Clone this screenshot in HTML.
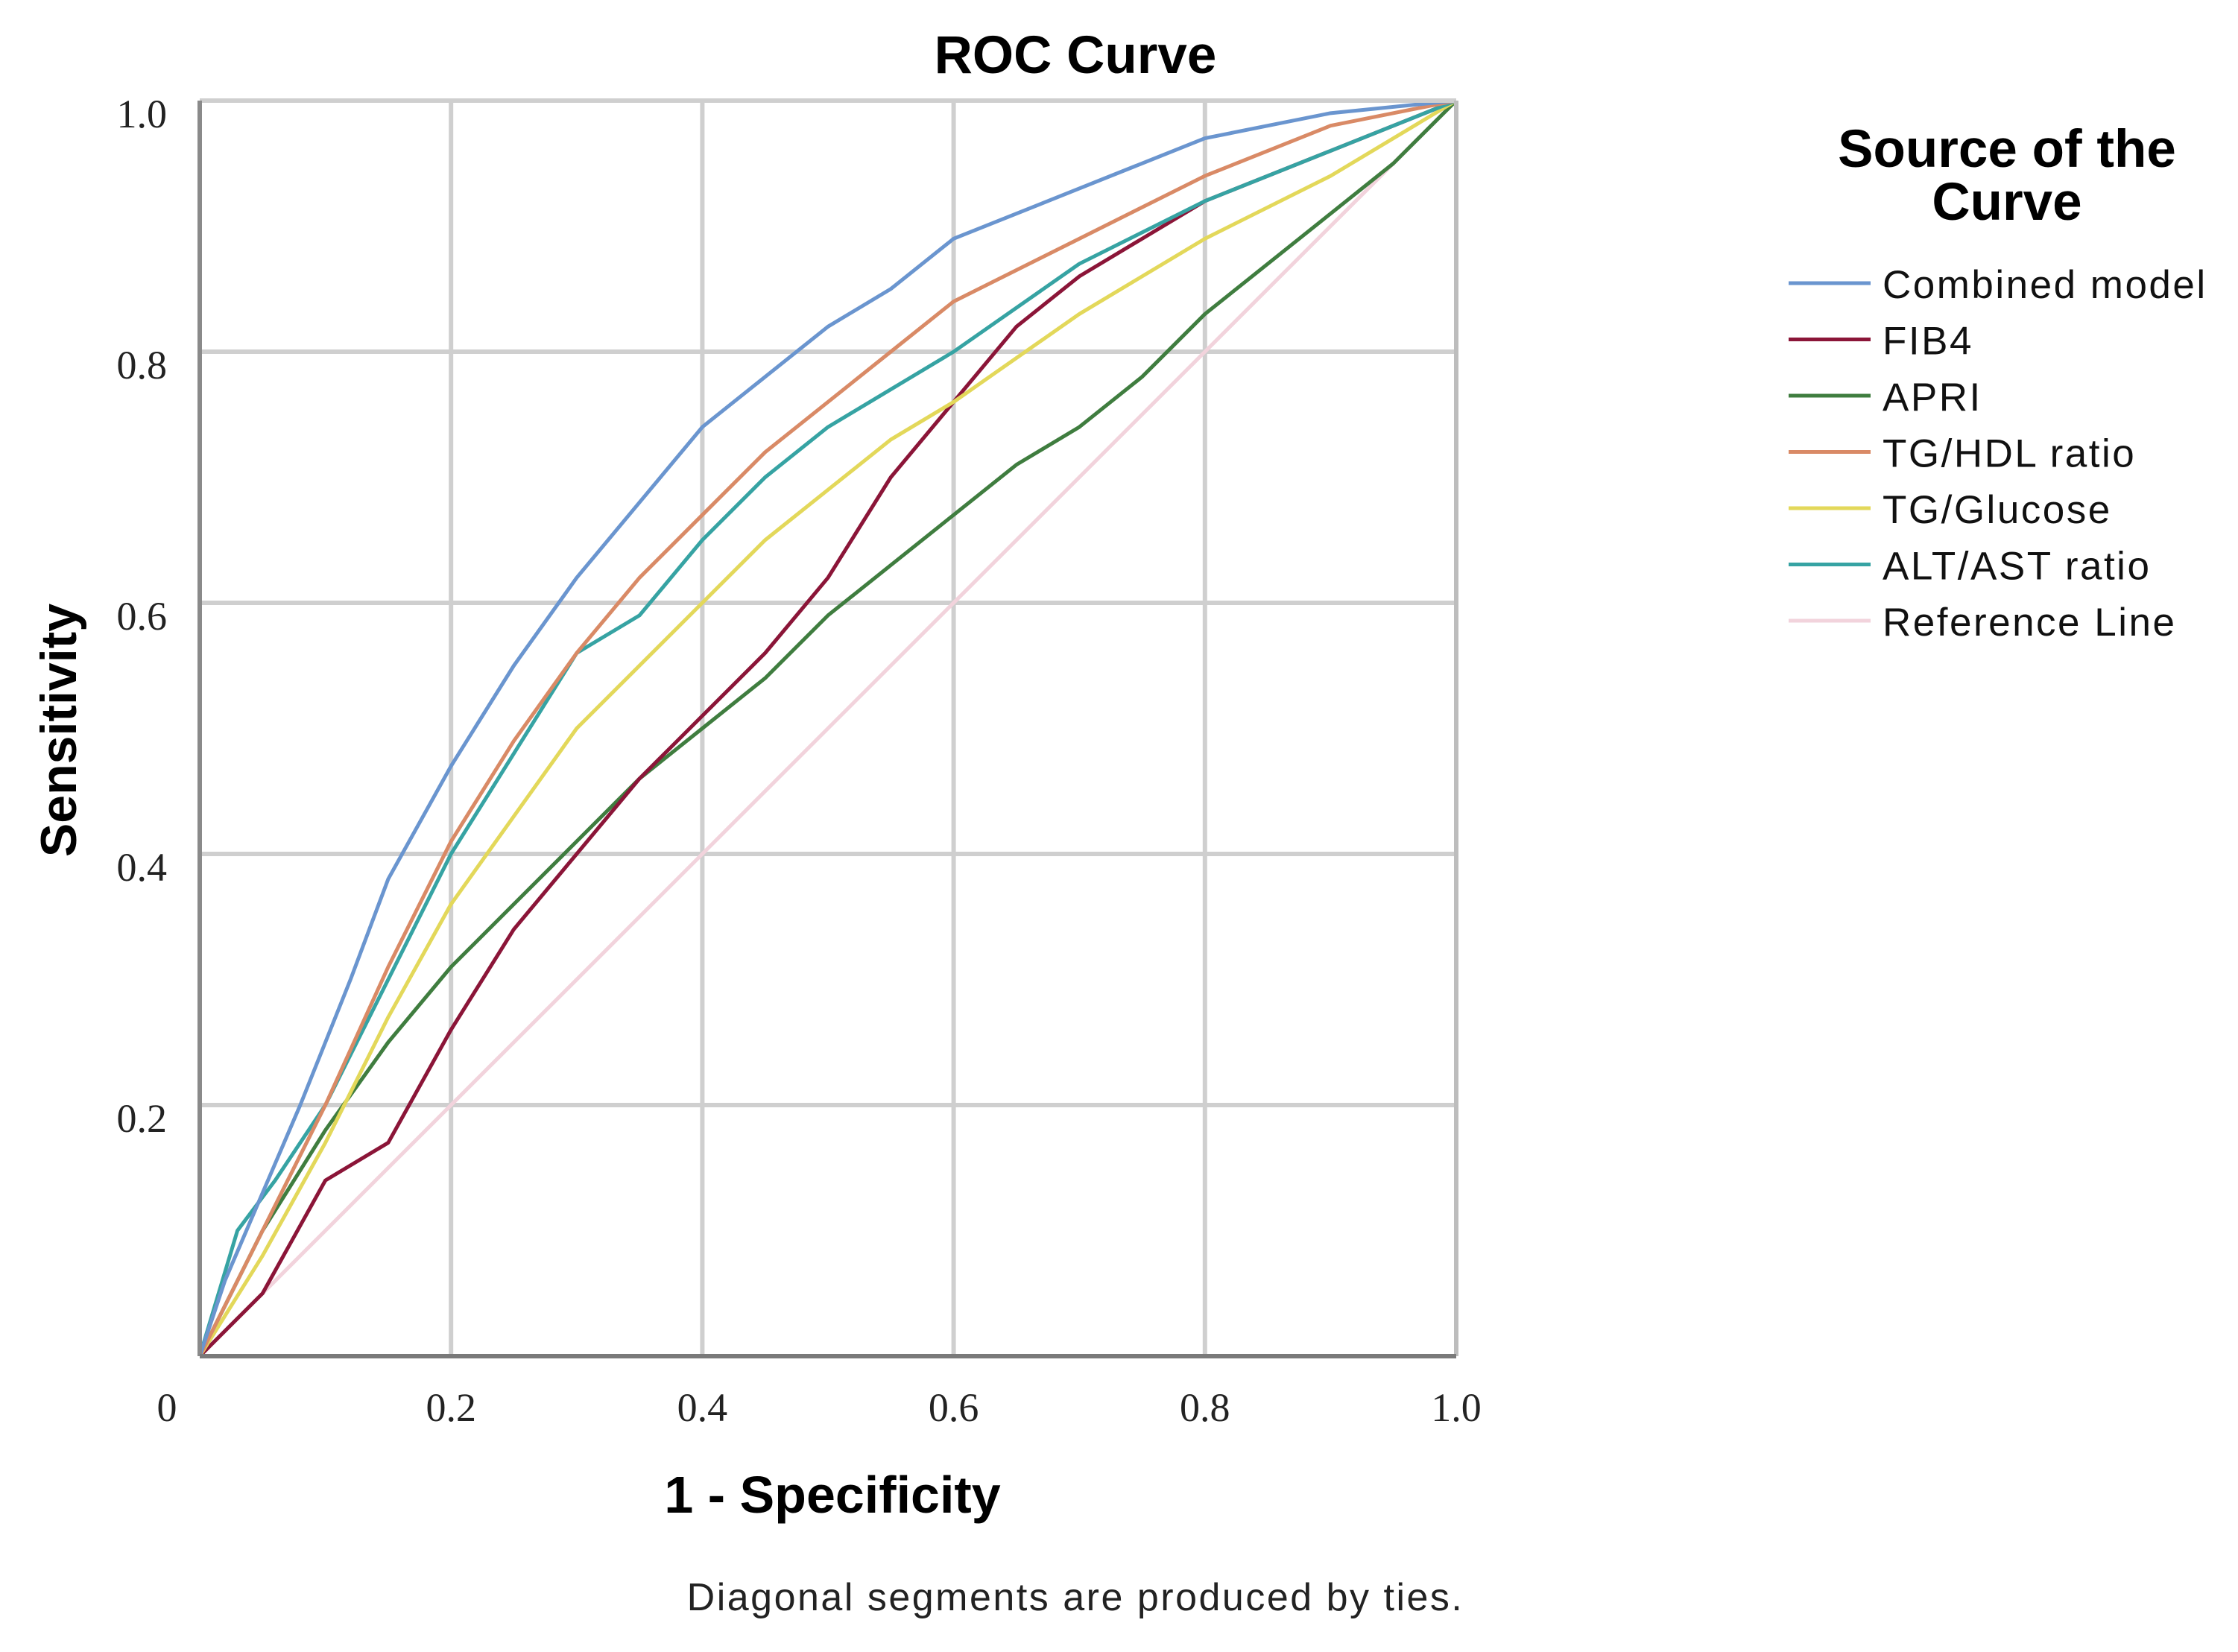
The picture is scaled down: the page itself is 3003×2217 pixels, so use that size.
<!DOCTYPE html>
<html><head><meta charset="utf-8"><style>
html,body{margin:0;padding:0;background:#fff;}
svg{display:block;}
text{font-family:"Liberation Sans",sans-serif;}
.tick{font-family:"Liberation Serif",serif;font-size:54px;fill:#222;}
</style></head><body>
<svg id="chart" width="3003" height="2217" viewBox="0 0 3003 2217">
<text x="1443" y="98" text-anchor="middle" font-size="71" font-weight="bold">ROC Curve</text>
<g id="grid"></g>
<g id="curves"></g>
<g id="axes"></g>
<text transform="translate(102,980) rotate(-90)" text-anchor="middle" font-size="68" font-weight="bold">Sensitivity</text>
<text x="1117" y="2030" text-anchor="middle" font-size="70" font-weight="bold">1 - Specificity</text>
<text x="1443" y="2161" text-anchor="middle" font-size="52" letter-spacing="2.5" fill="#222">Diagonal segments are produced by ties.</text>
<text x="2693" y="224" text-anchor="middle" font-size="71" font-weight="bold">Source of the</text>
<text x="2693" y="295" text-anchor="middle" font-size="71" font-weight="bold">Curve</text>
<g id="legend"></g>
</svg>
<script>
const seriesNames = ["Combined model","FIB4","APRI","TG/HDL ratio","TG/Glucose","ALT/AST ratio","Reference Line"];
const seriesColors = ["#6a95cf","#8b1538","#3f7d3f","#d98a66","#e3d85a","#36a3a3","#f2d3dc"];
const xTicks = [0,0.2,0.4,0.6,0.8,1.0];
const xTickLabels = ["0","0.2","0.4","0.6","0.8","1.0"];
const yTicks = [0.2,0.4,0.6,0.8,1.0];
const yTickLabels = ["0.2","0.4","0.6","0.8","1.0"];
const combinedFpr = [0,0.02,0.05,0.08,0.1,0.12,0.15,0.2,0.25,0.3,0.35,0.4,0.45,0.5,0.55,0.6,0.7,0.8,0.9,1];
const combinedTpr = [0,0.06,0.13,0.2,0.25,0.3,0.38,0.47,0.55,0.62,0.68,0.74,0.78,0.82,0.85,0.89,0.93,0.97,0.99,1];
const fib4Fpr = [0,0.05,0.1,0.15,0.2,0.25,0.3,0.35,0.4,0.45,0.5,0.55,0.6,0.65,0.7,0.75,0.8,0.9,1];
const fib4Tpr = [0,0.05,0.14,0.17,0.26,0.34,0.4,0.46,0.51,0.56,0.62,0.7,0.76,0.82,0.86,0.89,0.92,0.96,1];
const apriFpr = [0,0.05,0.1,0.15,0.2,0.25,0.3,0.35,0.4,0.45,0.5,0.55,0.6,0.65,0.7,0.75,0.8,0.85,0.9,0.95,1];
const apriTpr = [0,0.1,0.18,0.25,0.31,0.36,0.41,0.46,0.5,0.54,0.59,0.63,0.67,0.71,0.74,0.78,0.83,0.87,0.91,0.95,1];
const tghdlFpr = [0,0.05,0.1,0.15,0.2,0.25,0.3,0.35,0.4,0.45,0.5,0.55,0.6,0.7,0.8,0.9,1];
const tghdlTpr = [0,0.1,0.2,0.31,0.41,0.49,0.56,0.62,0.67,0.72,0.76,0.8,0.84,0.89,0.94,0.98,1];
const tgglucFpr = [0,0.05,0.1,0.15,0.2,0.25,0.3,0.35,0.4,0.45,0.5,0.55,0.6,0.7,0.8,0.9,1];
const tgglucTpr = [0,0.08,0.17,0.27,0.36,0.43,0.5,0.55,0.6,0.65,0.69,0.73,0.76,0.83,0.89,0.94,1];
const altastFpr = [0,0.03,0.06,0.1,0.15,0.2,0.25,0.3,0.35,0.4,0.45,0.5,0.55,0.6,0.7,0.8,0.9,1];
const altastTpr = [0,0.1,0.14,0.2,0.3,0.4,0.48,0.56,0.59,0.65,0.7,0.74,0.77,0.8,0.87,0.92,0.96,1];
const refFpr = [0,1];
const refTpr = [0,1];

const X0=268,X1=1954,Y0=1820,Y1=135;
const sx=v=>X0+(X1-X0)*v;
const sy=v=>Y0-(Y0-Y1)*v;
const NS="http://www.w3.org/2000/svg";
function mk(tag,parent){const e=document.createElementNS(NS,tag);parent.appendChild(e);return e;}
const grid=document.getElementById('grid'),axes=document.getElementById('axes'),curves=document.getElementById('curves'),legend=document.getElementById('legend');
xTicks.forEach((t,i)=>{
  if(t>0&&t<1){const l=mk('line',grid);
  
  
  l.setAttribute('x1',sx(t));l.setAttribute('x2',sx(t));l.setAttribute('y1',Y1);l.setAttribute('y2',Y0);l.setAttribute('stroke','#cfcfcf');l.setAttribute('stroke-width','6');}
  const tx=mk('text',axes);
  
  
  tx.setAttribute('class','tick');tx.setAttribute('x',t===0?224:sx(t));tx.setAttribute('y',1907);tx.setAttribute('text-anchor','middle');tx.textContent=xTickLabels[i];
});
yTicks.forEach((t,i)=>{
  if(t<1){const l=mk('line',grid);
  
  
  l.setAttribute('x1',X0);l.setAttribute('x2',X1);l.setAttribute('y1',sy(t));l.setAttribute('y2',sy(t));l.setAttribute('stroke','#cfcfcf');l.setAttribute('stroke-width','6');}
  const tx=mk('text',axes);
  
  
  tx.setAttribute('class','tick');tx.setAttribute('x',224);tx.setAttribute('y',sy(t)+36);tx.setAttribute('text-anchor','end');tx.textContent=yTickLabels[i];
});
const frame=[[X0,Y1,X1,Y1,'#cfcfcf'],[X1,Y1,X1,Y0,'#bdbdbd'],[X0,Y1,X0,Y0,'#8a8a8a'],[X0,Y0,X1,Y0,'#7a7a7a']];
frame.forEach(f=>{const l=mk('line',axes);
  
  
  l.setAttribute('x1',f[0]);l.setAttribute('y1',f[1]);l.setAttribute('x2',f[2]);l.setAttribute('y2',f[3]);l.setAttribute('stroke',f[4]);l.setAttribute('stroke-width','6');});
const allFpr=[combinedFpr,fib4Fpr,apriFpr,tghdlFpr,tgglucFpr,altastFpr,refFpr];
const allTpr=[combinedTpr,fib4Tpr,apriTpr,tghdlTpr,tgglucTpr,altastTpr,refTpr];
const drawOrder=[6,2,1,4,5,3,0];
drawOrder.forEach(k=>{
  const p=mk('polyline',curves);
  
  
  p.setAttribute('points',allFpr[k].map((v,j)=>sx(v)+','+sy(allTpr[k][j])).join(' '));
  p.setAttribute('fill','none');p.setAttribute('stroke',seriesColors[k]);p.setAttribute('stroke-width','5');p.setAttribute('stroke-linejoin','round');
});
seriesNames.forEach((n,i)=>{
  const y=380+75.5*i;
  const l=mk('line',legend);
  
  
  l.setAttribute('x1',2400);l.setAttribute('x2',2510);l.setAttribute('y1',y);l.setAttribute('y2',y);l.setAttribute('stroke',seriesColors[i]);l.setAttribute('stroke-width','5');
  const t=mk('text',legend);
  
  
  t.setAttribute('x',2526);t.setAttribute('y',y+20);t.setAttribute('font-size','53');t.setAttribute('letter-spacing','2.5');t.setAttribute('fill','#111');t.textContent=n;
});
</script>
</body></html>
